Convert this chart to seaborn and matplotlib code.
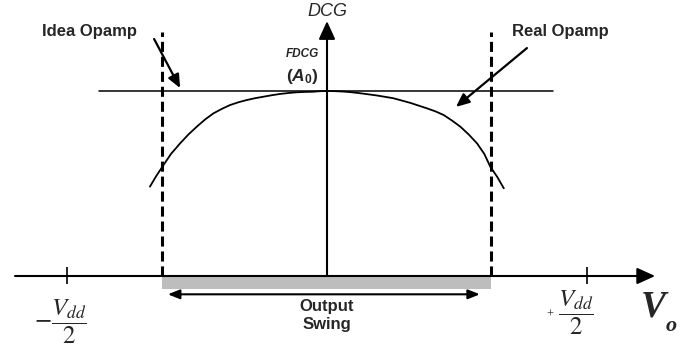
import numpy as np
import pandas as pd
import matplotlib
matplotlib.use("Agg")
import matplotlib.pyplot as plt
import seaborn as sns

# ---------------- data (normalised units: Vdd/2 = 1, A0 = 1) ----------------
vo_curve = [-0.681, -0.657, -0.633, -0.600, -0.565, -0.533, -0.501, -0.469, -0.437,
            -0.405, -0.373, -0.341, -0.309, -0.277, -0.245, -0.213, -0.181, -0.149,
            -0.117, -0.085, -0.054, -0.027, 0.0, 0.032, 0.064, 0.096, 0.127, 0.191,
            0.255, 0.320, 0.385, 0.417, 0.449, 0.481, 0.513, 0.545, 0.577, 0.605,
            0.628, 0.655, 0.680]
dcg_curve = [0.483, 0.540, 0.591, 0.660, 0.717, 0.765, 0.807, 0.846, 0.879,
             0.903, 0.924, 0.939, 0.951, 0.961, 0.969, 0.977, 0.984, 0.989,
             0.993, 0.995, 0.996, 0.999, 1.0, 0.999, 0.997, 0.993, 0.988, 0.976,
             0.961, 0.936, 0.906, 0.890, 0.870, 0.840, 0.807, 0.765, 0.717, 0.660,
             0.591, 0.535, 0.474]
ideal_vo = [-0.877, 0.869]
ideal_dcg = [1.0, 1.0]
swing_edges = [-0.635, 0.631]
supply_ticks = [-1.0, 1.0]
axis_label_x = "V"
axis_label_x_sub = "o"
axis_label_y = "DCG"
gain_label = "FDCG"
gain_symbol = r"$\mathit{(A_0)}$"
tick_labels = [r"$-\dfrac{V_{dd}}{2}$", r"$\dfrac{V_{dd}}{2}$"]
ideal_label = "Idea Opamp"
real_label = "Real Opamp"
swing_label = "Output\nSwing"

# ---------------- style ----------------
sns.set_theme(style="white")
plt.rcParams["font.family"] = ["Liberation Sans", "DejaVu Sans"]
plt.rcParams["mathtext.it"] = "Liberation Sans:italic:bold"
plt.rcParams["mathtext.rm"] = "Liberation Sans:bold"
plt.rcParams["mathtext.bf"] = "Liberation Sans:bold"

fig = plt.figure(figsize=(6.98, 3.56), dpi=100)
ax = fig.add_axes([0, 0, 1, 1])
ax.set_xlim(-1.2577, 1.4269)
ax.set_ylim(-0.43243, 1.49189)
ax.axis("off")

# output swing shading
ax.fill_between(swing_edges, 0, -0.068, color="#bdbdbd", lw=0, zorder=1)

# ideal and real gain curves
sns.lineplot(x=ideal_vo, y=ideal_dcg, ax=ax, color="black", lw=1.1, zorder=3)
df = pd.DataFrame({"Vo": vo_curve, "DCG": dcg_curve})
sns.lineplot(data=df, x="Vo", y="DCG", ax=ax, color="black", lw=1.3, zorder=3)

# dashed swing limits
ax.vlines(swing_edges, 0, 1.319, colors="black", lw=2.2,
          linestyles=(0, (3.3, 1.6)), zorder=4)

# axes with arrows
axis_arrow = dict(arrowstyle="-|>,head_length=0.55,head_width=0.25",
                  mutation_scale=20, lw=1.5, color="black", shrinkA=0, shrinkB=0)
ax.annotate("", xy=(1.262, 0), xytext=(-1.2, 0), arrowprops=axis_arrow, zorder=5)
ax.annotate("", xy=(0, 1.378), xytext=(0, 0), arrowprops=axis_arrow, zorder=5)

# supply ticks
ax.vlines(supply_ticks, -0.045, 0.05, colors="black", lw=1.2, zorder=5)

# output swing double arrow
ax.annotate("", xy=(0.588, -0.099), xytext=(-0.612, -0.099),
            arrowprops=dict(arrowstyle="<|-|>,head_length=0.5,head_width=0.2",
                            mutation_scale=14, lw=1.5, color="black",
                            shrinkA=0, shrinkB=0))

# pointer arrows
ptr = dict(arrowstyle="-|>,head_length=0.5,head_width=0.22", mutation_scale=16,
           lw=1.6, color="black", shrinkA=0, shrinkB=0)
ax.annotate("", xy=(-0.565, 1.016), xytext=(-0.665, 1.281), arrowprops=ptr)
ax.annotate("", xy=(0.496, 0.914), xytext=(0.769, 1.232), arrowprops=ptr)

# texts
ax.text(-0.912, 1.324, ideal_label, ha="center", va="center", fontsize=12, weight="bold")
ax.text(0.896, 1.324, real_label, ha="center", va="center", fontsize=12, weight="bold")
ax.text(0, 1.432, axis_label_y, ha="center", va="center", fontsize=13, style="italic")
ax.text(-0.096, 1.2, gain_label, ha="center", va="center", fontsize=8.5,
        weight="bold", style="italic")
ax.text(-0.096, 1.081, gain_symbol, ha="center", va="center", fontsize=12.5,
        math_fontfamily="custom")
ax.text(0, -0.215, swing_label, ha="center", va="center", fontsize=12,
        weight="bold", linespacing=1.25)

ax.text(-1.025, -0.249, tick_labels[0], ha="center", va="center", fontsize=18,
        math_fontfamily="stix")
ax.text(0.958, -0.2, tick_labels[1], ha="center", va="center", fontsize=18,
        math_fontfamily="stix")
ax.text(0.858, -0.211, "+", ha="center", va="center", fontsize=9,
        family="Liberation Serif")

ax.text(1.255, -0.170, axis_label_x, ha="center", va="center", fontsize=27,
        family="Liberation Serif", weight="bold", style="italic")
ax.text(1.325, -0.27, axis_label_x_sub, ha="center", va="center", fontsize=16,
        family="Liberation Serif", weight="bold", style="italic")

fig.savefig("out.png", dpi=100)
